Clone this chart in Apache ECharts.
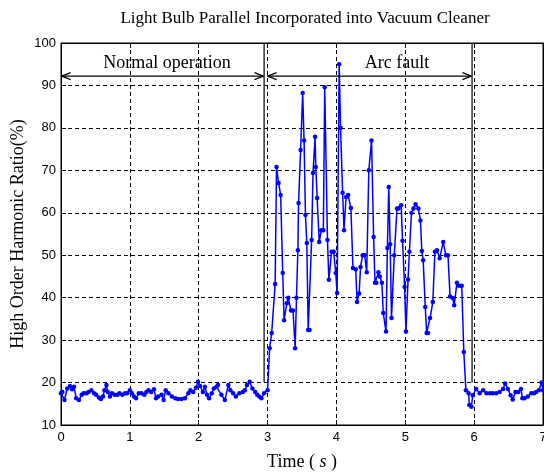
<!DOCTYPE html>
<html><head><meta charset="utf-8">
<script src="https://cdn.jsdelivr.net/npm/echarts@6.0.0/dist/echarts.min.js"></script>
<style>html,body{margin:0;padding:0;background:#fff}#c{width:544px;height:472px}</style>
</head><body><div id="c"></div>
<script>
// Time stamps (s) and high order harmonic ratio (%)
const times = [
  0.00,0.02,0.05,0.09,0.13,0.16,0.19,0.22,0.26,0.30,0.33,0.37,0.40,0.44,0.48,0.51,0.55,0.58,0.61,0.63,
  0.66,0.68,0.71,0.74,0.78,0.82,0.85,0.89,0.93,0.96,1.00,1.03,1.06,1.09,1.13,1.17,1.21,1.24,1.27,1.31,
  1.35,1.38,1.41,1.46,1.49,1.52,1.56,1.61,1.66,1.70,1.75,1.80,1.85,1.88,1.92,1.96,1.99,2.02,2.06,2.09,
  2.12,2.15,2.19,2.22,2.26,2.28,2.33,2.38,2.43,2.46,2.50,2.54,2.59,2.64,2.67,2.70,2.74,2.78,2.82,2.85,
  2.88,2.91,2.95,3.00,3.03,3.06,3.11,3.13,3.16,3.19,3.22,3.24,3.28,3.30,3.34,3.37,3.40,3.42,3.44,3.45,
  3.48,3.51,3.53,3.55,3.57,3.59,3.61,3.64,3.66,3.69,3.70,3.72,3.75,3.78,3.81,3.83,3.87,3.89,3.93,3.96,
  3.99,4.01,4.04,4.06,4.09,4.11,4.14,4.17,4.21,4.24,4.28,4.30,4.33,4.35,4.38,4.41,4.44,4.47,4.51,4.54,
  4.56,4.58,4.61,4.63,4.66,4.68,4.72,4.74,4.76,4.78,4.80,4.84,4.88,4.90,4.94,4.96,4.99,5.01,5.04,5.06,
  5.09,5.12,5.15,5.19,5.22,5.24,5.26,5.29,5.31,5.33,5.36,5.40,5.43,5.46,5.50,5.55,5.59,5.62,5.65,5.69,
  5.71,5.75,5.78,5.82,5.85,5.88,5.92,5.93,5.96,5.98,6.03,6.08,6.13,6.18,6.23,6.27,6.32,6.37,6.42,6.45,
  6.49,6.53,6.56,6.60,6.64,6.68,6.70,6.73,6.78,6.83,6.87,6.90,6.94,6.98,7.00
];
const ratios = [
  17.5,17.8,15.9,18.6,19.2,18.4,19.0,16.3,15.9,17.1,17.5,17.5,17.8,18.2,17.5,17.1,16.5,16.1,16.7,18.2,
  19.4,17.8,16.7,17.5,17.1,17.1,17.5,17.1,17.5,17.5,18.2,17.5,16.7,16.3,17.5,17.5,17.1,17.8,18.2,17.8,
  18.4,16.3,16.7,17.1,15.9,18.2,17.5,16.7,16.3,16.1,16.1,16.3,17.5,18.2,17.8,18.8,20.2,19.2,17.8,19.0,
  17.1,16.3,17.5,18.6,19.0,19.4,17.1,15.9,19.4,18.2,17.5,16.7,17.5,17.8,18.2,19.4,20.2,18.6,17.8,17.1,
  16.7,16.3,17.5,18.2,28.1,31.7,43.2,70.8,67.0,64.2,45.8,34.7,38.7,40.0,37.0,37.0,28.1,40.0,51.2,62.3,
  74.8,88.2,77.0,59.5,52.9,32.4,32.4,53.6,69.4,77.9,70.8,63.5,53.1,55.9,55.9,89.6,53.6,44.2,50.8,50.8,
  45.8,41.1,95.0,80.0,64.7,55.9,63.7,64.2,61.1,47.0,46.7,39.0,41.0,47.2,50.0,50.0,46.0,70.0,77.0,54.3,
  43.5,43.5,46.0,45.0,43.5,36.4,32.0,51.7,66.1,52.6,35.2,50.0,61.0,61.0,61.8,53.4,42.5,32.0,44.3,50.8,
  60.0,61.0,62.0,61.0,58.2,51.0,48.8,37.8,31.7,31.7,35.2,39.0,50.8,51.2,49.3,53.1,50.0,50.0,40.3,39.9,
  38.2,43.5,42.8,42.8,27.2,18.2,17.5,14.7,14.3,17.0,18.5,17.5,18.2,17.5,17.5,17.5,17.5,17.8,18.5,19.8,
  18.5,17.0,16.0,17.8,17.8,18.5,16.3,16.3,16.7,17.5,17.5,17.8,18.2,20.0,18.2
];
// Axis ticks
const xTicks = [0,1,2,3,4,5,6,7];
const yTicks = [10,20,30,40,50,60,70,80,90,100];
// Annotation values (data units)
const arrowLevel = 92.2;
const normalSpan = [0.01, 2.94];
const arcSpan = [3.00, 5.96];
const dividerTimes = [2.95, 5.97];
const dividerBottom = 20;
const labelTexts = ['Normal operation', 'Arc fault'];
const labelTimes = [1.54, 4.88];
const labelLevel = 95.3;

const seriesData = times.map((t, i) => [t, ratios[i]]);

const chart = echarts.init(document.getElementById('c'), null, {renderer: 'canvas'});

function arrowHead(tip, dir, y) {
  const L = 9, H = 3.5;
  return [
    {type: 'line', shape: {x1: tip, y1: y, x2: tip - dir * L, y2: y - H}, style: {stroke: '#000', lineWidth: 1.2}},
    {type: 'line', shape: {x1: tip, y1: y, x2: tip - dir * L, y2: y + H}, style: {stroke: '#000', lineWidth: 1.2}}
  ];
}

const option = {
  animation: false,
  backgroundColor: '#fff',
  title: {
    text: 'Light Bulb Parallel Incorporated into Vacuum Cleaner',
    left: 300, top: 5, textAlign: 'center',
    textStyle: {fontFamily: 'Liberation Serif', fontSize: 17, fontWeight: 'normal', color: '#000'}
  },
  grid: {left: 61, right: 1, top: 43, bottom: 47, show: true, borderColor: '#000', borderWidth: 1,
    backgroundColor: '#fff', containLabel: false, outerBoundsMode: 'none'},
  xAxis: [{
    type: 'value', min: 0, max: 7, interval: 1,
    name: 'Time ( {i|s} )', nameLocation: 'middle', nameGap: 28, nameMoveOverlap: false,
    nameTextStyle: {fontFamily: 'Liberation Serif', fontSize: 18, color: '#000',
      rich: {i: {fontFamily: 'Liberation Serif', fontStyle: 'italic', fontSize: 18, color: '#000'}}},
    axisLine: {show: true, onZero: false, lineStyle: {color: '#000', width: 1}},
    axisTick: {show: true, inside: true, length: 5, lineStyle: {color: '#000'}},
    axisLabel: {color: '#000', fontFamily: 'Liberation Sans', fontSize: 13, margin: 6,
      formatter: v => xTicks.includes(v) ? String(v) : ''},
    splitLine: {show: true, lineStyle: {color: '#000', type: [4, 3], width: 1}}
  }, {
    type: 'value', min: 0, max: 7, interval: 1, position: 'top',
    axisLine: {show: true, onZero: false, lineStyle: {color: '#000'}},
    axisTick: {show: true, inside: true, length: 5, lineStyle: {color: '#000'}},
    axisLabel: {show: false}, splitLine: {show: false}
  }],
  yAxis: [{
    type: 'value', min: 10, max: 100, interval: 10,
    name: 'High Order Harmonic Ratio(%)', nameLocation: 'middle', nameGap: 34, nameRotate: 90,
    nameMoveOverlap: false,
    nameTextStyle: {fontFamily: 'Liberation Serif', fontSize: 18, color: '#000'},
    axisLine: {show: true, onZero: false, lineStyle: {color: '#000', width: 1}},
    axisTick: {show: true, inside: true, length: 5, lineStyle: {color: '#000'}},
    axisLabel: {color: '#000', fontFamily: 'Liberation Sans', fontSize: 13, margin: 5,
      formatter: v => yTicks.includes(v) ? String(v) : ''},
    splitLine: {show: true, lineStyle: {color: '#000', type: [4, 3], width: 1}}
  }, {
    type: 'value', min: 10, max: 100, interval: 10, position: 'right',
    axisLine: {show: true, onZero: false, lineStyle: {color: '#000'}},
    axisTick: {show: true, inside: true, length: 5, lineStyle: {color: '#000'}},
    axisLabel: {show: false}, splitLine: {show: false}
  }],
  series: [{
    type: 'line',
    data: seriesData,
    xAxisIndex: 0, yAxisIndex: 0,
    symbol: 'circle', symbolSize: 4.5, showSymbol: true,
    lineStyle: {color: '#0000ff', width: 1.5},
    itemStyle: {color: '#0000ff'},
    z: 3
  }, {
    type: 'custom',
    xAxisIndex: 0, yAxisIndex: 0,
    data: [[0, 0]],
    silent: true, z: 4, clip: false,
    renderItem: function (params, api) {
      const children = [];
      dividerTimes.forEach(t => {
        const p1 = api.coord([t, 100]);
        const p2 = api.coord([t, dividerBottom]);
        children.push({type: 'line', shape: {x1: p1[0], y1: p1[1], x2: p2[0], y2: p2[1]},
          style: {stroke: '#333', lineWidth: 1.5}});
      });
      [normalSpan, arcSpan].forEach(span => {
        const a = api.coord([span[0], arrowLevel]);
        const b = api.coord([span[1], arrowLevel]);
        children.push({type: 'line', shape: {x1: a[0], y1: a[1], x2: b[0], y2: b[1]},
          style: {stroke: '#000', lineWidth: 1.2}});
        arrowHead(a[0], -1, a[1]).forEach(c => children.push(c));
        arrowHead(b[0], 1, b[1]).forEach(c => children.push(c));
      });
      labelTexts.forEach((txt, i) => {
        const p = api.coord([labelTimes[i], labelLevel]);
        children.push({type: 'text', x: p[0], y: p[1],
          style: {text: txt, fill: '#000', font: '18px "Liberation Serif"', align: 'center', verticalAlign: 'middle'}});
      });
      return {type: 'group', children: children};
    }
  }]
};
chart.setOption(option);
</script>
</body></html>
